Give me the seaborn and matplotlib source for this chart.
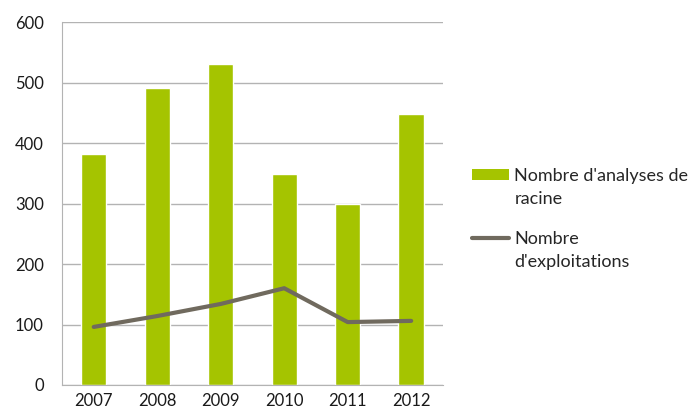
import numpy as np
import pandas as pd
import matplotlib
matplotlib.use('Agg')
import matplotlib.pyplot as plt
from matplotlib.patches import Patch
from matplotlib.lines import Line2D
from matplotlib.transforms import IdentityTransform
import seaborn as sns

years = ['2007', '2008', '2009', '2010', '2011', '2012']
analyses = [382, 491, 530, 349, 300, 448]
exploitations = [96, 114, 134, 160, 104, 106]

# legend labels, split over two lines as in the original
bar_label = ["Nombre d'analyses de", "racine"]
line_label = ["Nombre", "d'exploitations"]

sns.set_style('white')
plt.rcParams['font.family'] = ['Lato', 'DejaVu Sans']

df = pd.DataFrame({'year': years, 'analyses': analyses, 'exploitations': exploitations})

fig = plt.figure(figsize=(6.91, 4.18), dpi=100)
ax = fig.add_axes([0.0897, 0.079, 0.5513, 0.868])

green = '#a5c400'
grey = '#706a5e'

sns.barplot(data=df, x='year', y='analyses', color=green, width=0.4,
            saturation=1, ax=ax, zorder=2)
sns.lineplot(x=np.arange(len(years)), y=df['exploitations'], color=grey,
             linewidth=3, ax=ax, zorder=3)

ax.set_ylim(0, 600)
ax.set_xlim(-0.5, len(years) - 0.5)
ax.set_yticks(range(0, 601, 100))
ax.yaxis.grid(True, color='#b3b3b3', linewidth=1, zorder=0)
ax.set_axisbelow(True)
ax.set_xlabel('')
ax.set_ylabel('')

for s in ['top', 'right']:
    ax.spines[s].set_visible(False)
ax.spines['left'].set_color('#b3b3b3')
ax.spines['bottom'].set_color('#b3b3b3')

# x tick marks between categories, labels at centers
ax.set_xticks(np.arange(len(years)))
ax.set_xticklabels(years)
ax.set_xticks(np.arange(-0.5, len(years)), minor=True)
ax.tick_params(axis='x', which='major', length=0, labelsize=12, colors='#1a1a1a', pad=6)
ax.tick_params(axis='x', which='minor', length=6, color='#b3b3b3', width=1, direction='out')
ax.tick_params(axis='y', length=5, color='#b3b3b3', labelsize=12, labelcolor='#1a1a1a', pad=8)

handles = [Patch(facecolor=green, edgecolor='none'),
           Line2D([0], [0], color=grey, linewidth=3)]
leg = fig.legend(handles, [bar_label[0], line_label[0]], loc='upper left',
                 bbox_to_anchor=(0.66, 0.638), frameon=False, fontsize=13,
                 handlelength=2.05, handleheight=0.55, handletextpad=0.28,
                 labelspacing=2.63)

# second line of each label goes right under the first one
fig.canvas.draw()
for t, rest in zip(leg.get_texts(), [bar_label[1], line_label[1]]):
    bb = t.get_window_extent()
    fig.text(bb.x0, bb.y0 - 23, rest, transform=IdentityTransform(),
             fontsize=13, ha='left', va='bottom', color=t.get_color())

fig.savefig('out.png', dpi=100)
